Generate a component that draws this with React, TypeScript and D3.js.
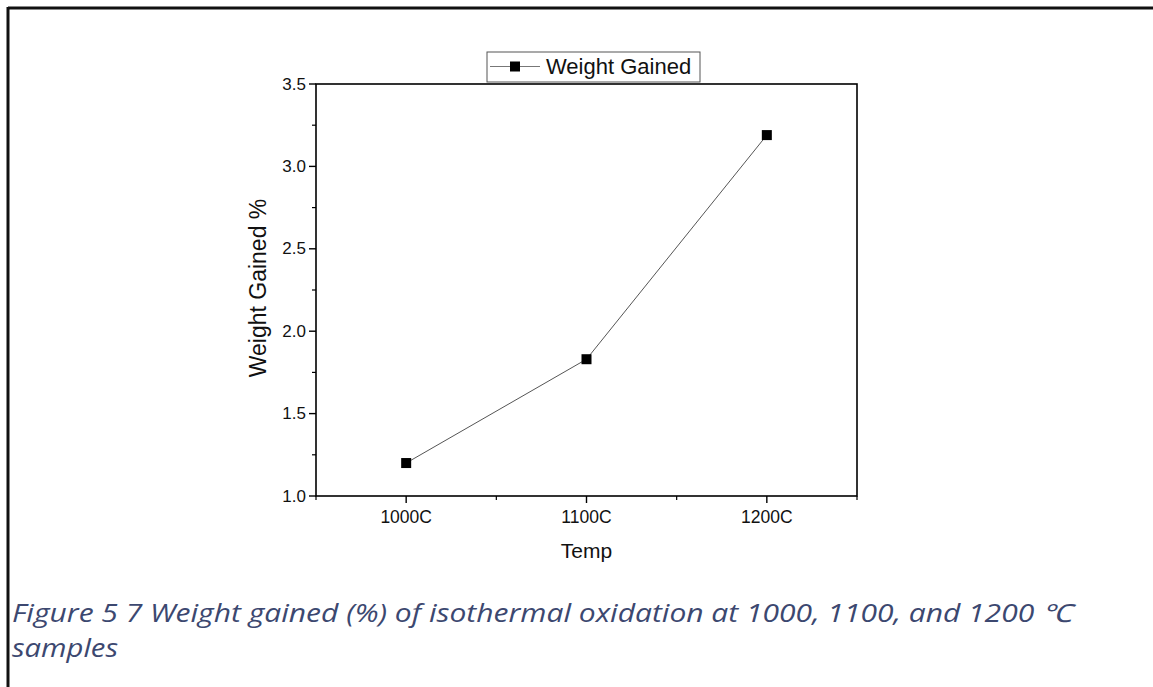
import React from "react";
import * as d3 from "d3";

const categories = ["1000C", "1100C", "1200C"];
const weightGained = [1.2, 1.83, 3.19];
const yMajorTicks = [1.0, 1.5, 2.0, 2.5, 3.0, 3.5];
const yMinorTicks = [1.25, 1.75, 2.25, 2.75, 3.25];
const xMinorTicks = [-0.5, 0.5, 1.5, 2.5];
const seriesName = "Weight Gained";
const xTitle = "Temp";
const yTitle = "Weight Gained %";
const caption1 = "Figure 5 7 Weight gained (%) of isothermal oxidation at  1000, 1100, and 1200 \u2103";
const caption2 = "samples";

export default function App() {
  const W = 1153, H = 687;
  const L = 316, R = 857, T = 84, B = 496;
  const x = d3.scaleLinear().domain([-0.5, 2.5]).range([L, R]);
  const y = d3.scaleLinear().domain([1, 3.5]).range([B, T]);
  const pts = weightGained.map((v, i) => [x(i), y(v)] as [number, number]);
  const line = d3.line()(pts) || "";
  const font = "'Liberation Sans', Arial, sans-serif";
  const capFont = "'Open Sans', sans-serif";
  return (
    <svg width={W} height={H} style={{ position: "absolute", left: 0, top: 0, background: "#fff" }}>
      <rect x={0} y={0} width={W} height={H} fill="#fff" />
      <line x1={8} y1={8} x2={W} y2={8} stroke="#111" strokeWidth={3} />
      <line x1={8} y1={7} x2={8} y2={H} stroke="#111" strokeWidth={3} />
      {/* frame */}
      <rect x={L} y={T} width={R - L} height={B - T} fill="none" stroke="#000" strokeWidth={1.6} />
      {/* y ticks */}
      {yMajorTicks.map((t) => (
        <g key={"ym" + t}>
          <line x1={L - 7} x2={L} y1={y(t)} y2={y(t)} stroke="#000" strokeWidth={1.4} />
          <text x={L - 10} y={y(t) + 5.5} textAnchor="end" fontFamily={font} fontSize={17} fill="#111">
            {t.toFixed(1)}
          </text>
        </g>
      ))}
      {yMinorTicks.map((t) => (
        <line key={"yn" + t} x1={L - 4} x2={L} y1={y(t)} y2={y(t)} stroke="#000" strokeWidth={1.2} />
      ))}
      {/* x ticks */}
      {categories.map((c, i) => (
        <g key={c}>
          <line x1={x(i)} x2={x(i)} y1={B} y2={B + 7} stroke="#000" strokeWidth={1.4} />
          <text x={x(i)} y={B + 27} textAnchor="middle" fontFamily={font} fontSize={17.5} fill="#111">
            {c}
          </text>
        </g>
      ))}
      {xMinorTicks.map((t) => (
        <line key={"xn" + t} x1={x(t)} x2={x(t)} y1={B} y2={B + 4} stroke="#000" strokeWidth={1.2} />
      ))}
      {/* titles */}
      <text x={(L + R) / 2} y={558} textAnchor="middle" fontFamily={font} fontSize={21} fill="#111">
        {xTitle}
      </text>
      <text
        transform={`translate(${266},${288}) rotate(-90)`}
        textAnchor="middle"
        fontFamily={font}
        fontSize={23}
        fill="#111"
      >
        {yTitle}
      </text>
      {/* series */}
      <path d={line} fill="none" stroke="#555" strokeWidth={1} />
      {pts.map(([px, py], i) => (
        <rect key={i} x={px - 5} y={py - 5} width={10} height={10} fill="#000" />
      ))}
      {/* legend */}
      <rect x={487} y={52} width={213} height={30} fill="#fff" stroke="#555" strokeWidth={1} />
      <line x1={490} x2={540} y1={66.5} y2={66.5} stroke="#777" strokeWidth={1} />
      <rect x={510} y={61.5} width={10} height={10} fill="#000" />
      <text x={546} y={74} fontFamily={font} fontSize={22} fill="#111">
        {seriesName}
      </text>
      {/* caption */}
      <text x={12} y={622} fontFamily={capFont} fontStyle="italic" fontSize={25} fill="#3c4870" textLength={1060} lengthAdjust="spacingAndGlyphs">
        {caption1}
      </text>
      <text x={12} y={657} fontFamily={capFont} fontStyle="italic" fontSize={25} fill="#3c4870" textLength={106} lengthAdjust="spacingAndGlyphs">
        {caption2}
      </text>
    </svg>
  );
}
